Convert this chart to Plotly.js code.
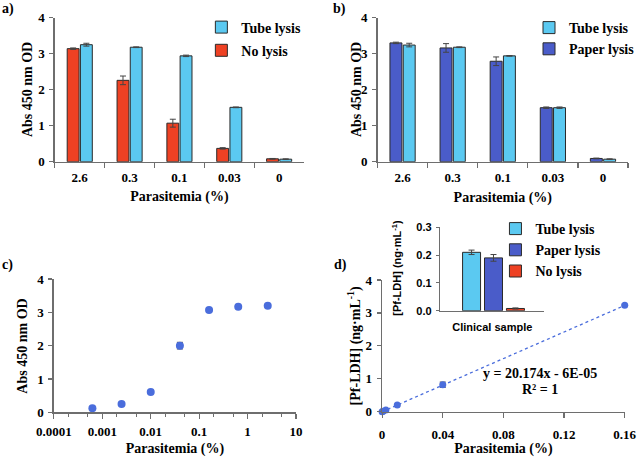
<!DOCTYPE html>
<html><head><meta charset="utf-8">
<script src="https://cdn.plot.ly/plotly-3.0.1.min.js"></script>
<style>html,body{margin:0;padding:0;background:#fff}#chart{width:640px;height:457px}</style>
</head><body><div id="chart"></div>
<script>
// ---- data ----
const barCategories = ['2.6', '0.3', '0.1', '0.03', '0'];
const aNoLysis = [3.14, 2.26, 1.07, 0.37, 0.08];
const aNoLysisErr = [0.02, 0.12, 0.11, 0.02, 0.01];
const aTubeLysis = [3.25, 3.18, 2.94, 1.51, 0.07];
const aTubeLysisErr = [0.04, 0.01, 0.02, 0.01, 0.01];
const bPaperLysis = [3.30, 3.16, 2.79, 1.50, 0.09];
const bPaperLysisErr = [0.02, 0.12, 0.12, 0.02, 0.01];
const bTubeLysis = [3.24, 3.18, 2.94, 1.50, 0.07];
const bTubeLysisErr = [0.05, 0.01, 0.01, 0.02, 0.01];
const cParasitemia = [0.000625, 0.0025, 0.01, 0.04, 0.16, 0.64, 2.6];
const cAbs = [0.12, 0.25, 0.61, 2.0, 3.07, 3.17, 3.2];
const cAbsErr = [0.02, 0.02, 0.03, 0.1, 0.03, 0.02, 0.02];
const cTickVals = [0.0001, 0.001, 0.01, 0.1, 1, 10];
const cTickText = ['0.0001', '0.001', '0.01', '0.1', '1', '10'];
const dParasitemia = [0, 0.000625, 0.0025, 0.01, 0.04, 0.16];
const dLDH = [0.0, 0.013, 0.05, 0.2, 0.82, 3.23];
const dLDHErr = [0.005, 0.005, 0.01, 0.02, 0.08, 0.03];
const dTickVals = [0, 0.04, 0.08, 0.12, 0.16];
const dTickText = ['0', '0.04', '0.08', '0.12', '0.16'];
const fitSlope = 20.174;
const fitIntercept = -0.00006;
const insetCategory = ['Clinical sample'];
const insetTube = [0.21];
const insetTubeErr = [0.008];
const insetPaper = [0.19];
const insetPaperErr = [0.012];
const insetNo = [0.008];
const insetNoErr = [0.002];

// ---- styles ----
const RED = '#EE4123', CYAN = '#5BC9F1', BLUE = '#4A5CC9', DOT = '#4A6DDC';
const SERIF = 'Liberation Serif, Times New Roman, serif';
const SANS = 'Liberation Sans, Arial, sans-serif';
const tickFont = {family: SERIF, size: 13, color: '#000', weight: 'bold'};
const titleFont = {family: SERIF, size: 14, color: '#000', weight: 'bold'};
const sansTick = {family: SANS, size: 11, color: '#000', weight: 'bold'};
const sansTitle = {family: SANS, size: 11, color: '#000', weight: 'bold'};
const AX = '#6e6e6e';
function err(arr) { return {type: 'data', array: arr, visible: true, color: '#444', thickness: 1, width: 3}; }
const barLine = {color: '#2a2a2a', width: 1};

const traces = [
  {type: 'bar', name: 'No lysis', x: barCategories, y: aNoLysis, error_y: err(aNoLysisErr),
   marker: {color: RED, line: barLine}, xaxis: 'x', yaxis: 'y', legend: 'legend', legendgroup: 'a1', legendrank: 2},
  {type: 'bar', name: 'Tube lysis', x: barCategories, y: aTubeLysis, error_y: err(aTubeLysisErr),
   marker: {color: CYAN, line: barLine}, xaxis: 'x', yaxis: 'y', legend: 'legend', legendgroup: 'a2', legendrank: 1},
  {type: 'bar', name: 'Paper lysis', x: barCategories, y: bPaperLysis, error_y: err(bPaperLysisErr),
   marker: {color: BLUE, line: barLine}, xaxis: 'x2', yaxis: 'y2', legend: 'legend2', legendrank: 2},
  {type: 'bar', name: 'Tube lysis', x: barCategories, y: bTubeLysis, error_y: err(bTubeLysisErr),
   marker: {color: CYAN, line: barLine}, xaxis: 'x2', yaxis: 'y2', legend: 'legend2', legendrank: 1},
  {type: 'scatter', mode: 'markers', x: cParasitemia, y: cAbs, error_y: err(cAbsErr),
   marker: {color: DOT, size: 8}, xaxis: 'x3', yaxis: 'y3', showlegend: false, cliponaxis: false},
  {type: 'scatter', mode: 'lines', x: dParasitemia, y: dParasitemia.map(v => fitSlope * v + fitIntercept),
   line: {color: DOT, width: 1.3, dash: 'dot'}, xaxis: 'x4', yaxis: 'y4', showlegend: false, cliponaxis: false},
  {type: 'scatter', mode: 'markers', x: dParasitemia, y: dLDH, error_y: err(dLDHErr),
   marker: {color: DOT, size: 7}, xaxis: 'x4', yaxis: 'y4', showlegend: false, cliponaxis: false},
  {type: 'bar', name: 'Tube lysis', x: insetCategory, y: insetTube, error_y: err(insetTubeErr),
   offset: -0.286, width: 0.173,
   marker: {color: CYAN, line: barLine}, xaxis: 'x5', yaxis: 'y5', legend: 'legend3'},
  {type: 'bar', name: 'Paper lysis', x: insetCategory, y: insetPaper, error_y: err(insetPaperErr),
   offset: -0.075, width: 0.173,
   marker: {color: BLUE, line: barLine}, xaxis: 'x5', yaxis: 'y5', legend: 'legend3'},
  {type: 'bar', name: 'No lysis', x: insetCategory, y: insetNo, error_y: err(insetNoErr),
   offset: 0.136, width: 0.173,
   marker: {color: RED, line: barLine}, xaxis: 'x5', yaxis: 'y5', legend: 'legend3'}
];

function baseAxis(extra) {
  return Object.assign({showline: true, linecolor: AX, linewidth: 1.5, ticks: 'outside', ticklen: 4,
    tickcolor: AX, tickwidth: 1.2, showgrid: false, zeroline: false, tickfont: tickFont, fixedrange: true,
    ticklabelstandoff: 2}, extra);
}
const W = 640, H = 457;
const px = v => v / W, py = v => 1 - v / H;

const legendBase = {font: titleFont, bgcolor: 'rgba(0,0,0,0)', borderwidth: 0, xanchor: 'left', yanchor: 'top'};

function paperText(text, x, y, font, angle) {
  return {text: text, x: px(x), y: py(y), xref: 'paper', yref: 'paper', xanchor: angle ? 'center' : 'left',
    yanchor: 'middle', showarrow: false, font: font, textangle: angle || 0};
}

const layout = {
  width: W, height: H, margin: {l: 0, r: 0, t: 0, b: 0},
  paper_bgcolor: '#fff', plot_bgcolor: 'rgba(0,0,0,0)',
  barmode: 'group', bargap: 0.47, bargroupgap: 0.1,
  showlegend: true,
  xaxis: baseAxis({domain: [px(55), px(305)], anchor: 'y', type: 'category', tickson: 'boundaries', ticklen: 5,
    ticklabelstandoff: 3, title: {text: 'Parasitemia (%)', font: titleFont, standoff: 7}}),
  yaxis: baseAxis({domain: [py(161.7), py(17.7)], anchor: 'x', range: [0, 4], dtick: 1}),
  xaxis2: baseAxis({domain: [px(378.7), px(630)], anchor: 'y2', type: 'category', tickson: 'boundaries', ticklen: 5,
    ticklabelstandoff: 3, title: {text: 'Parasitemia (%)', font: titleFont, standoff: 8}}),
  yaxis2: baseAxis({domain: [py(161.7), py(17.7)], anchor: 'x2', range: [0, 4], dtick: 1}),
  xaxis3: baseAxis({domain: [px(54), px(297)], anchor: 'y3', type: 'log', range: [-4, 1],
    tickvals: cTickVals, ticktext: cTickText, ticklen: 5,
    minor: {ticks: 'outside', ticklen: 3, tickcolor: AX, tickwidth: 1, showgrid: false},
    title: {text: 'Parasitemia (%)', font: titleFont, standoff: 6}}),
  yaxis3: baseAxis({domain: [py(412.3), py(279)], anchor: 'x3', range: [0, 4], dtick: 1}),
  xaxis4: baseAxis({domain: [px(383.3), px(626.7)], anchor: 'y4', range: [0, 0.16],
    tickvals: dTickVals, ticktext: dTickText, ticklen: 5, ticklabelstandoff: 5,
    title: {text: 'Parasitemia (%)', font: titleFont, standoff: 4}}),
  yaxis4: baseAxis({domain: [py(411.7), py(280)], anchor: 'x4', range: [0, 4], dtick: 1}),
  xaxis5: baseAxis({domain: [px(441.7), px(546)], anchor: 'y5', type: 'category', ticks: '', tickfont: sansTick,
    ticklabelstandoff: 6}),
  yaxis5: baseAxis({domain: [py(310.7), py(227.3)], anchor: 'x5', range: [0, 0.3], dtick: 0.1, tickformat: '.1f',
    tickfont: sansTick, ticklen: 3}),
  legend: Object.assign({}, legendBase, {x: px(202), y: py(11.5), traceorder: 'grouped', tracegroupgap: 2}),
  legend2: Object.assign({}, legendBase, {x: px(531), y: py(12), traceorder: 'normal'}),
  legend3: Object.assign({}, legendBase, {x: px(497), y: py(213), traceorder: 'normal'}),
  annotations: [
    paperText('a)', 0, 9, titleFont),
    paperText('b)', 332, 9, titleFont),
    paperText('c)', 0, 265, titleFont),
    paperText('d)', 333, 265, titleFont),
    paperText('Abs 450 nm OD', 27.5, 89.7, titleFont, -90),
    paperText('Abs 450 nm OD', 357.5, 89.7, titleFont, -90),
    paperText('Abs 450 nm OD', 23, 345.7, titleFont, -90),
    paperText('[Pf-LDH] (ng·mL<sup>-1</sup>)', 355.5, 346, titleFont, -90),
    paperText('[Pf-LDH] (ng·mL<sup>-1</sup>)', 398, 268, sansTitle, -90),
    {text: 'y = 20.174x - 6E-05', x: px(542), y: py(373), xref: 'paper', yref: 'paper', xanchor: 'center', yanchor: 'middle', showarrow: false, font: titleFont},
    {text: 'R² = 1', x: px(542), y: py(389), xref: 'paper', yref: 'paper', xanchor: 'center', yanchor: 'middle', showarrow: false, font: titleFont}
  ]
};

Plotly.newPlot('chart', traces, layout, {displayModeBar: false, staticPlot: true});
</script>
</body></html>
